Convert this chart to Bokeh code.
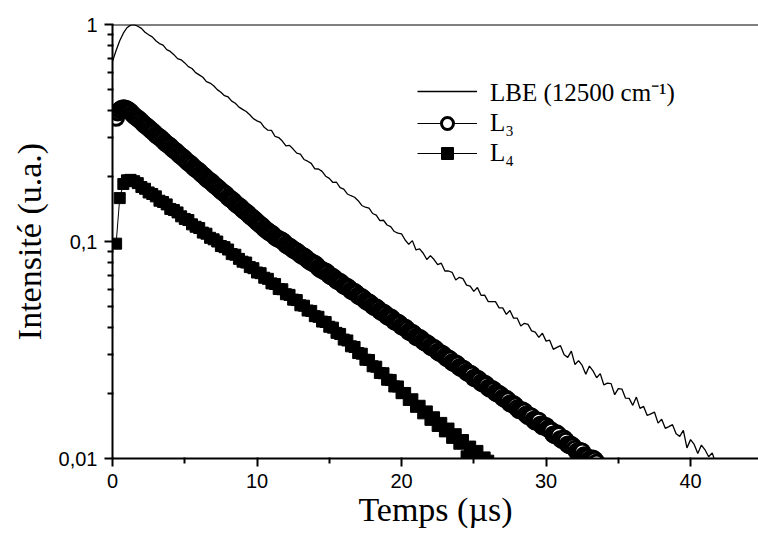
import numpy as np
from bokeh.plotting import figure
from bokeh.models import (Range1d, FixedTicker, CustomJSTickFormatter,
                          Span, Legend, LegendItem)
from bokeh.embed import file_html
from bokeh.resources import INLINE

# ---- data: log10 of intensity ----
lbe_t0, lbe_step = 0.0, 0.25
lbe_log10 = [
    -0.170, -0.120, -0.075, -0.040, -0.015, -0.003, -0.001, -0.008,
    -0.018, -0.036, -0.047, -0.057, -0.075, -0.088, -0.095, -0.116, -0.124, -0.139,
    -0.157, -0.163, -0.177, -0.194, -0.203, -0.222, -0.232, -0.243, -0.263, -0.270,
    -0.282, -0.300, -0.312, -0.328, -0.334, -0.353, -0.363, -0.381, -0.391, -0.401,
    -0.416, -0.434, -0.444,
    -0.451, -0.474, -0.487, -0.488, -0.516, -0.521, -0.537, -0.559, -0.557, -0.574,
    -0.593, -0.597, -0.622, -0.630, -0.640, -0.665, -0.666, -0.677, -0.699, -0.709,
    -0.728, -0.727, -0.752, -0.759, -0.781, -0.789, -0.796, -0.812, -0.834, -0.842,
    -0.846, -0.871, -0.878, -0.904, -0.902, -0.924, -0.931, -0.954, -0.961, -0.965,
    -0.993, -1.013, -0.996, -1.039, -1.034, -1.054, -1.083, -1.065, -1.083, -1.107,
    -1.100, -1.136, -1.136, -1.142, -1.177, -1.165, -1.171, -1.201, -1.206, -1.230,
    -1.212, -1.248, -1.247, -1.277, -1.277, -1.277, -1.306, -1.306, -1.336, -1.318,
    -1.353, -1.353, -1.389, -1.377, -1.382, -1.412, -1.418, -1.442, -1.423, -1.459,
    -1.455, -1.497, -1.488, -1.480, -1.522, -1.534, -1.505, -1.567, -1.549, -1.571,
    -1.612, -1.574, -1.596, -1.628, -1.609, -1.661, -1.653, -1.655, -1.706, -1.678,
    -1.680, -1.722, -1.723, -1.755, -1.717, -1.769, -1.760, -1.802, -1.794, -1.786,
    -1.837, -1.819, -1.861, -1.853, -1.844, -1.886, -1.898, -1.870, -1.951, -1.913,
    -1.935, -1.977, -1.938, -1.960, -1.992, -1.974, -2.025, -2.017, -2.019, -2.061,
    -2.012, -2.070,
]

l3_t0, l3_step = 0.25, 0.125
l3_log10 = [
    -0.430, -0.405, -0.395, -0.388, -0.386, -0.387, -0.390, -0.396, -0.403, -0.412,
    -0.420, -0.427, -0.433, -0.439, -0.447, -0.456, -0.464, -0.469, -0.476, -0.484,
    -0.491, -0.498, -0.507, -0.514, -0.519, -0.526, -0.534, -0.543, -0.550, -0.555,
    -0.562, -0.571, -0.578, -0.584, -0.591, -0.600, -0.607, -0.612, -0.620, -0.629,
    -0.636, -0.641, -0.649, -0.658, -0.665, -0.670, -0.677, -0.686, -0.693, -0.700,
    -0.709, -0.716, -0.721, -0.728, -0.737, -0.744, -0.750, -0.757, -0.766, -0.773,
    -0.778, -0.785, -0.795, -0.802, -0.807, -0.814, -0.824, -0.831, -0.836, -0.843,
    -0.852, -0.859, -0.865, -0.872, -0.881, -0.888, -0.894, -0.901, -0.910, -0.917,
    -0.923, -0.930, -0.939, -0.946, -0.952, -0.959, -0.963, -0.970, -0.979, -0.985,
    -0.988, -0.993, -0.997, -1.004, -1.014, -1.020, -1.023, -1.029, -1.037, -1.042,
    -1.045, -1.052, -1.061, -1.066, -1.068, -1.075, -1.084, -1.090, -1.095, -1.100,
    -1.103, -1.110, -1.120, -1.127, -1.131, -1.136, -1.138, -1.145, -1.155, -1.161,
    -1.163, -1.170, -1.179, -1.184, -1.186, -1.193, -1.203, -1.207, -1.209, -1.216,
    -1.226, -1.231, -1.232, -1.239, -1.249, -1.254, -1.256, -1.263, -1.273, -1.278,
    -1.280, -1.287, -1.297, -1.302, -1.303, -1.310, -1.320, -1.325, -1.327, -1.334,
    -1.344, -1.348, -1.349, -1.357, -1.368, -1.372, -1.373, -1.380, -1.391, -1.395,
    -1.396, -1.404, -1.415, -1.419, -1.420, -1.428, -1.439, -1.443, -1.443, -1.450,
    -1.460, -1.466, -1.468, -1.474, -1.484, -1.489, -1.490, -1.497, -1.508, -1.513,
    -1.515, -1.520, -1.530, -1.537, -1.538, -1.544, -1.556, -1.560, -1.561, -1.567,
    -1.579, -1.584, -1.585, -1.591, -1.602, -1.607, -1.608, -1.614, -1.628, -1.632,
    -1.631, -1.638, -1.650, -1.655, -1.654, -1.661, -1.674, -1.679, -1.678, -1.684,
    -1.696, -1.701, -1.702, -1.708, -1.720, -1.725, -1.725, -1.732, -1.746, -1.750,
    -1.749, -1.756, -1.768, -1.777, -1.780, -1.778, -1.783, -1.797, -1.805, -1.803,
    -1.807, -1.822, -1.830, -1.824, -1.826, -1.843, -1.852, -1.848, -1.850, -1.862,
    -1.866, -1.872, -1.889, -1.893, -1.884, -1.892, -1.910, -1.915, -1.908, -1.918,
    -1.935, -1.940, -1.937, -1.944, -1.955, -1.968, -1.972, -1.965, -1.968, -1.985,
    -1.992, -1.994, -2.005, -2.012, -2.000, -2.006, -2.018,
]

l4_t0, l4_step = 0.25, 0.25
l4_log10 = [
    -1.010, -0.800, -0.735, -0.718, -0.716, -0.722, -0.731, -0.749, -0.757, -0.774,
    -0.781, -0.792, -0.812, -0.818, -0.829, -0.850, -0.855, -0.866, -0.884, -0.896,
    -0.901, -0.921, -0.932, -0.938, -0.959, -0.964, -0.983, -0.990, -1.000, -1.021,
    -1.026, -1.037, -1.058, -1.061, -1.080, -1.093, -1.097, -1.118, -1.123, -1.143,
    -1.146, -1.167, -1.172,
    -1.193, -1.196, -1.219, -1.220, -1.243, -1.246, -1.268, -1.270, -1.294, -1.296,
    -1.318, -1.320, -1.344, -1.347, -1.369, -1.371, -1.393, -1.397,
    -1.421, -1.426, -1.452, -1.456, -1.483, -1.486, -1.514, -1.517, -1.545, -1.546,
    -1.575, -1.577, -1.606, -1.607, -1.637, -1.638, -1.668, -1.668, -1.699, -1.698,
    -1.730, -1.727, -1.762, -1.757, -1.792,
    -1.783, -1.822, -1.810, -1.850, -1.836, -1.875, -1.862, -1.905, -1.888, -1.932,
    -1.915, -1.990, -1.945, -1.985, -1.965, -2.000, -1.995, -2.010,
]

x_ticks = [0, 10, 20, 30, 40]
x_minor_ticks = [5, 15, 25, 35]
y_ticks = [0.01, 0.1, 1]
series_labels = ["LBE (12500 cm\u207b\u00b9)", "L\u2083", "L\u2084"]
x_label = "Temps (\u00b5s)"
y_label = "Intensit\u00e9 (u.a.)"

lbe_t = lbe_t0 + lbe_step * np.arange(len(lbe_log10))
l3_t = l3_t0 + l3_step * np.arange(len(l3_log10))
l4_t = l4_t0 + l4_step * np.arange(len(l4_log10))
lbe_y = 10.0 ** np.array(lbe_log10)
l3_y = 10.0 ** np.array(l3_log10)
l4_y = 10.0 ** np.array(l4_log10)

p = figure(width=758, height=536, y_axis_type="log",
           x_range=Range1d(0, 44.7), y_range=Range1d(0.01, 1),
           output_backend="svg", toolbar_location=None,
           min_border_left=112, min_border_right=0, min_border_top=24, min_border_bottom=78)
p.outline_line_color = None
p.background_fill_color = "white"
p.border_fill_color = "white"
p.xgrid.visible = False
p.ygrid.visible = False

# top frame line at the top of the y range
p.add_layout(Span(location=1, dimension="width", line_color="black", line_width=2))

r_lbe = p.line(lbe_t, lbe_y, line_color="black", line_width=1.3)
r_l4_line = p.line(l4_t, l4_y, line_color="black", line_width=1)
r_l4_pts = p.scatter(l4_t, l4_y, marker="square", size=11, fill_color="black", line_color="black")
r_l3_line = p.line(l3_t, l3_y, line_color="black", line_width=1)
r_l3_pts = p.scatter(l3_t, l3_y, marker="circle", size=15, fill_color="white",
                     line_color="black", line_width=3)

minor_y = [m * 10.0 ** e for e in (-2, -1) for m in range(2, 10)]
p.yaxis.ticker = FixedTicker(ticks=y_ticks, minor_ticks=minor_y)
p.yaxis.formatter = CustomJSTickFormatter(
    code="var d = Math.max(0, -Math.round(Math.log10(tick))); return tick.toFixed(d).replace('.', ',');")
p.xaxis.ticker = FixedTicker(ticks=x_ticks, minor_ticks=x_minor_ticks)

for ax in (p.xaxis[0], p.yaxis[0]):
    ax.axis_line_width = 2
    ax.axis_line_color = "black"
    ax.major_tick_line_color = "black"
    ax.minor_tick_line_color = "black"
    ax.major_tick_line_width = 2
    ax.minor_tick_line_width = 2
    ax.major_tick_in = 1
    ax.minor_tick_in = 1
    ax.major_tick_out = 8
    ax.minor_tick_out = 5
    ax.major_label_text_font = "Liberation Sans"
    ax.major_label_text_font_size = "20px"
    ax.major_label_text_color = "black"
    ax.axis_label_text_font = "Liberation Serif"
    ax.axis_label_text_font_size = "34px"
    ax.axis_label_text_font_style = "normal"
    ax.axis_label_text_color = "black"

p.xaxis.axis_label = x_label
p.yaxis.axis_label = y_label
p.xaxis.major_label_standoff = 7
p.xaxis.axis_label_standoff = 0
p.yaxis.major_label_standoff = 7
p.yaxis.axis_label_standoff = 8

legend = Legend(items=[
    LegendItem(label=series_labels[0], renderers=[r_lbe]),
    LegendItem(label=series_labels[1], renderers=[r_l3_line, r_l3_pts]),
    LegendItem(label=series_labels[2], renderers=[r_l4_line, r_l4_pts]),
], location=(305, 290), border_line_color=None, background_fill_alpha=0,
   padding=0, margin=0, spacing=0, glyph_width=60, glyph_height=30, label_height=30,
   label_standoff=13, label_text_font="Liberation Serif", label_text_font_size="25px",
   label_text_color="black")
p.add_layout(legend)

open("out.html", "w").write(file_html(p, INLINE))
